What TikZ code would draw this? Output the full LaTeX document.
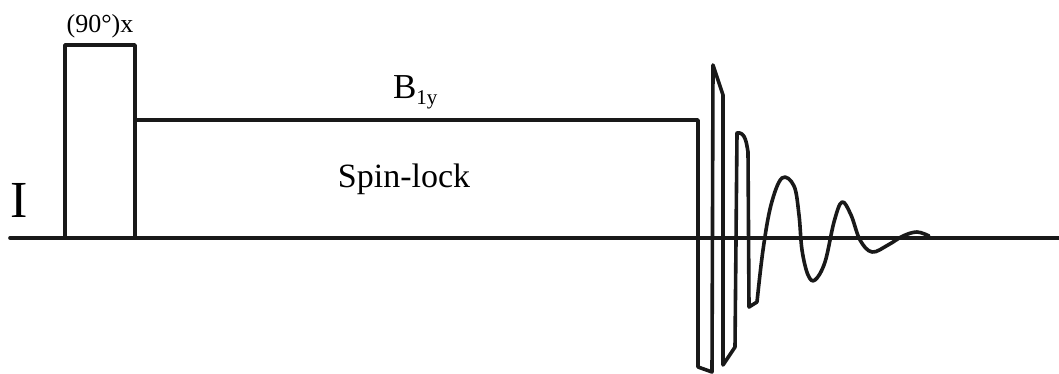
\documentclass[tikz,border=0pt]{standalone}
\usepackage{fontspec}
\setmainfont{Liberation Serif}
\begin{document}
\begin{tikzpicture}[x=1pt,y=-1pt,
  seq/.style={line width=3.6pt,line join=round,line cap=round,black!90},
  lbl/.style={inner sep=0pt,outer sep=0pt}]
\useasboundingbox (0,0) rectangle (1059,374);
% baseline
\draw[seq] (10,238) -- (1059,238);
% 90 pulse
\draw[seq] (65,238) -- (65,45) -- (135,45) -- (135,238);
% spin-lock and FID
\draw[seq] (135,120) -- (698,120) -- (698,367) -- (712,372) -- (713,65) -- (723,95)
  -- (723,365) -- (735,347) -- (737,133) to[out=10,in=100] (748,152) -- (749,307) -- (757,302);
\draw[seq] plot[smooth,tension=0.6] coordinates {(757,302) (763,250) (771,205) (782,178) (794,186) (799,215) (802,250) (808,275) (815,280) (825,262) (834,222) (842,202) (851,215) (860,240) (872,252) (888,245) (903,236) (917,232) (929,236)};
% labels
\node[lbl,font=\fontsize{52}{52}\selectfont,anchor=base] (ilbl) at (19,217) {I};
\node[lbl,font=\fontsize{26}{26}\selectfont,anchor=base] (plbl) at (100,33) {(90°)x};
\node[lbl,font=\fontsize{35}{35}\selectfont,anchor=base west] (blbl) at (393,99) {B\raisebox{-6pt}{\fontsize{21}{21}\selectfont 1y}};
\node[lbl,font=\fontsize{34}{34}\selectfont,anchor=base] (slbl) at (404,187) {Spin-lock};
\end{tikzpicture}
\end{document}
